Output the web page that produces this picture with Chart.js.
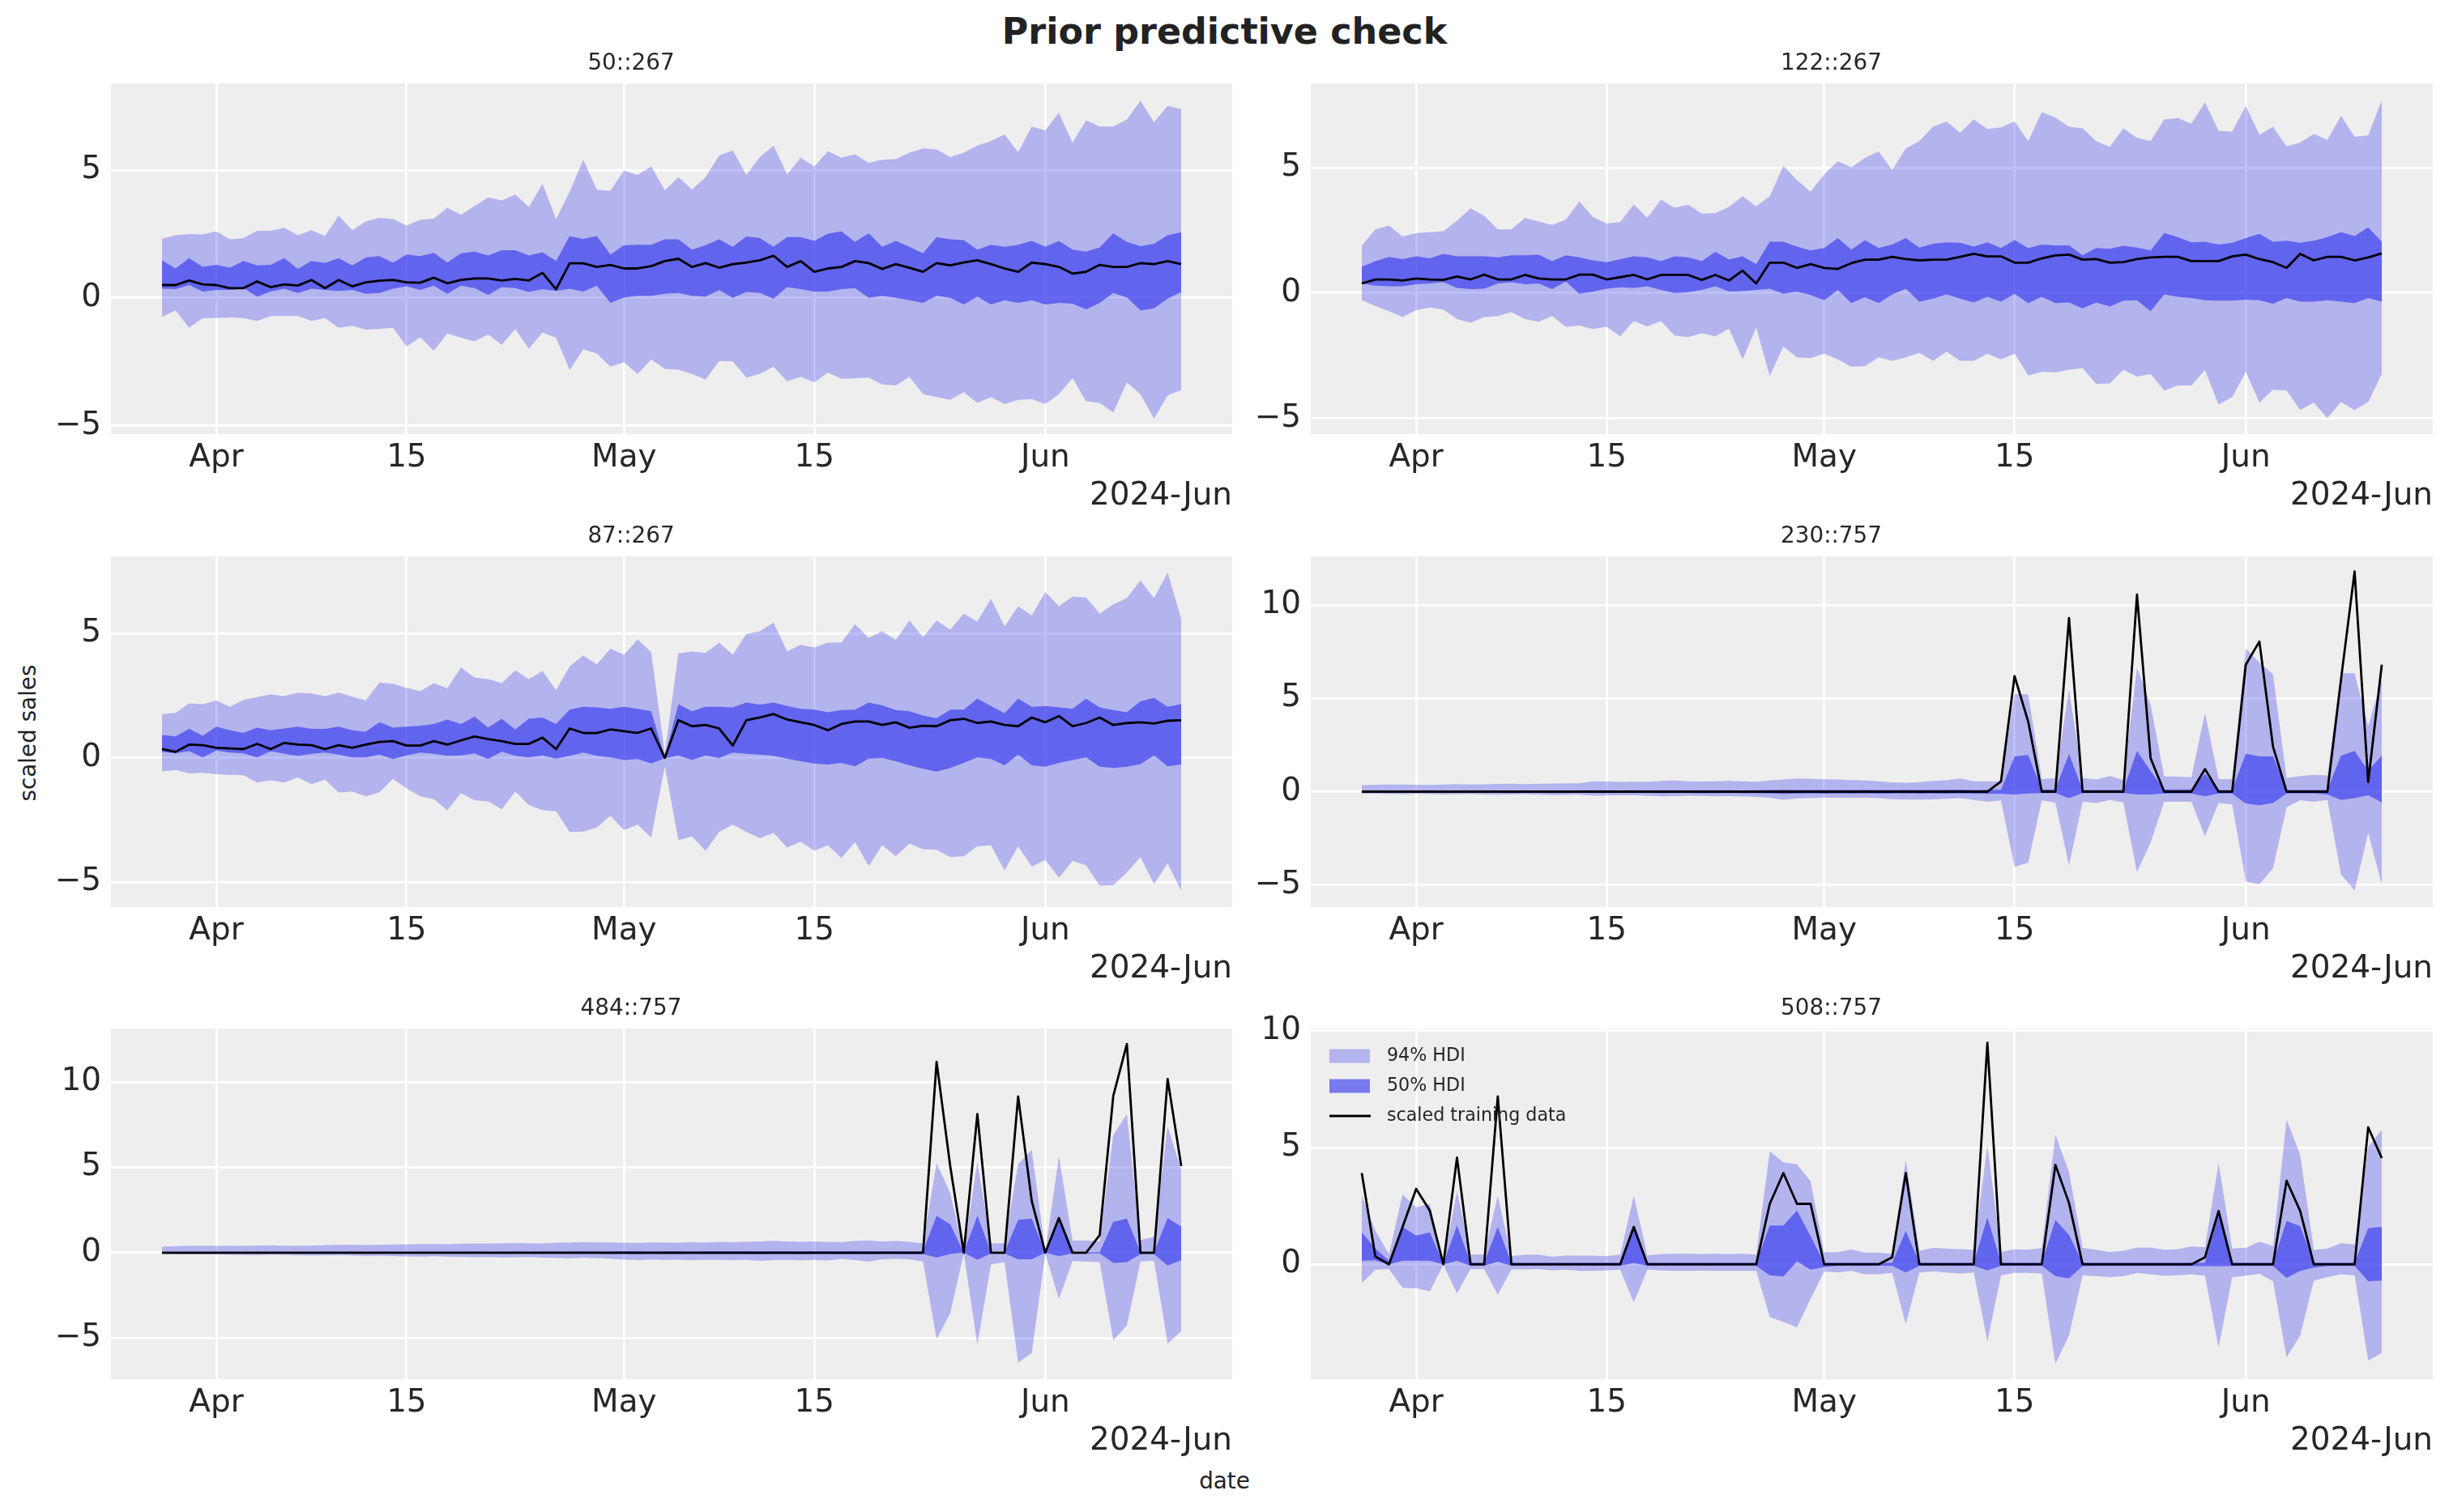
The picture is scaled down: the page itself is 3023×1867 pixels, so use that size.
<!DOCTYPE html>
<html><head><meta charset="utf-8">
<script src="https://cdn.jsdelivr.net/npm/chart.js@4.4.1/dist/chart.umd.min.js"></script>
<style>
html,body{margin:0;padding:0;background:#fff;}
body{width:3023px;height:1867px;position:relative;overflow:hidden;font-family:'DejaVu Sans';}
canvas{position:absolute;}
.txt{position:absolute;color:#222;white-space:nowrap;font-family:'DejaVu Sans';}
</style></head><body>
<div class="txt" id="sup" style="left:0;width:3023px;text-align:center;top:13px;font-size:44.4px;line-height:52px;font-weight:bold;">Prior predictive check</div>
<div class="txt" id="xlab" style="left:0;width:3023px;text-align:center;top:1812px;font-size:27.8px;line-height:34px;">date</div>
<div class="txt" id="ylab" style="left:35px;top:905px;font-size:27.8px;line-height:34px;transform:translate(-50%,-50%) rotate(-90deg);">scaled sales</div>
<script>
// ---------- categories ----------
const dates = ['2024-03-28','2024-03-29','2024-03-30','2024-03-31','2024-04-01','2024-04-02','2024-04-03','2024-04-04','2024-04-05','2024-04-06',
'2024-04-07','2024-04-08','2024-04-09','2024-04-10','2024-04-11','2024-04-12','2024-04-13','2024-04-14','2024-04-15','2024-04-16',
'2024-04-17','2024-04-18','2024-04-19','2024-04-20','2024-04-21','2024-04-22','2024-04-23','2024-04-24','2024-04-25','2024-04-26',
'2024-04-27','2024-04-28','2024-04-29','2024-04-30','2024-05-01','2024-05-02','2024-05-03','2024-05-04','2024-05-05','2024-05-06',
'2024-05-07','2024-05-08','2024-05-09','2024-05-10','2024-05-11','2024-05-12','2024-05-13','2024-05-14','2024-05-15','2024-05-16',
'2024-05-17','2024-05-18','2024-05-19','2024-05-20','2024-05-21','2024-05-22','2024-05-23','2024-05-24','2024-05-25','2024-05-26',
'2024-05-27','2024-05-28','2024-05-29','2024-05-30','2024-05-31','2024-06-01','2024-06-02','2024-06-03','2024-06-04','2024-06-05',
'2024-06-06','2024-06-07','2024-06-08','2024-06-09','2024-06-10','2024-06-11'];
const tickDates = ['2024-04-01','2024-04-15','2024-05-01','2024-05-15','2024-06-01'];
const tickLabels = ['Apr','15','May','15','Jun'];
const offsetLabel = '2024-Jun';
const panelTitles = ['50::267','122::267','87::267','230::757','484::757','508::757'];
const legendLabels = ['94% HDI','50% HDI','scaled training data'];

// ---------- panel 1: 50::267 ----------
const p1Hi94 = [2.31,2.45,2.50,2.48,2.60,2.29,2.34,2.62,2.62,2.74,2.45,2.65,2.42,3.22,2.65,2.99,3.13,3.08,2.83,3.05,3.10,3.53,3.25,3.59,3.93,3.81,4.04,3.55,4.46,3.08,4.15,5.40,4.23,4.19,4.98,4.80,5.15,4.21,4.72,4.24,4.72,5.57,5.77,4.81,5.51,5.96,4.83,5.48,5.14,5.74,5.48,5.62,5.28,5.40,5.43,5.68,5.85,5.81,5.51,5.68,5.96,6.13,6.39,5.70,6.70,6.55,7.24,6.06,6.95,6.70,6.70,6.98,7.71,6.87,7.51,7.38];
const p1Hi50 = [1.47,1.15,1.55,1.21,1.29,1.18,1.44,1.27,1.29,1.55,1.13,1.44,1.36,1.55,1.27,1.58,1.63,1.38,1.70,1.63,1.76,1.38,1.74,1.81,1.66,1.86,1.86,1.66,1.78,1.44,2.42,2.31,2.42,1.70,2.06,2.08,2.08,2.29,2.29,1.89,2.06,2.29,2.00,2.40,2.34,2.00,2.38,2.38,2.23,2.51,2.60,2.19,2.53,2.00,2.23,2.00,1.74,2.38,2.29,2.26,1.89,2.08,2.00,2.08,2.23,2.00,2.23,1.89,1.81,1.97,2.53,2.19,2.02,2.12,2.45,2.57];
const p1Lo50 = [0.36,0.34,0.50,0.25,0.31,0.31,0.38,0.05,0.25,0.36,0.19,0.36,0.31,0.27,0.31,0.16,0.19,0.36,0.45,0.31,0.48,0.16,0.48,0.38,0.11,0.42,0.38,0.23,0.34,0.27,0.36,0.25,0.48,-0.20,0.02,0.08,0.08,0.16,0.19,0.08,0.05,0.31,0.00,0.23,0.19,-0.03,0.42,0.34,0.25,0.25,0.34,0.38,0.00,0.08,0.00,-0.09,-0.20,0.08,0.00,-0.26,0.05,-0.26,-0.09,-0.20,-0.09,-0.26,-0.20,-0.23,-0.45,-0.20,0.19,0.02,-0.49,-0.41,-0.03,0.23];
const p1Lo94 = [-0.75,-0.49,-1.17,-0.79,-0.79,-0.77,-0.79,-0.90,-0.71,-0.71,-0.71,-0.90,-0.79,-1.17,-1.09,-1.24,-1.22,-1.17,-1.90,-1.54,-2.07,-1.39,-1.56,-1.70,-1.43,-1.84,-1.22,-1.99,-1.36,-1.56,-2.83,-2.01,-2.18,-2.69,-2.52,-2.98,-2.41,-2.78,-2.81,-2.98,-3.20,-2.47,-2.49,-3.12,-2.98,-2.69,-3.26,-3.09,-3.31,-2.92,-3.17,-3.14,-3.12,-3.39,-3.43,-3.09,-3.77,-3.88,-3.99,-3.69,-4.11,-3.88,-4.16,-3.99,-3.96,-4.16,-3.77,-3.14,-4.05,-4.11,-4.48,-3.31,-3.77,-4.73,-3.82,-3.60];
const p1Obs = [0.50,0.50,0.68,0.53,0.50,0.38,0.38,0.64,0.42,0.53,0.48,0.70,0.38,0.70,0.45,0.61,0.67,0.70,0.61,0.59,0.79,0.57,0.70,0.76,0.76,0.68,0.74,0.68,0.98,0.34,1.35,1.35,1.21,1.29,1.15,1.15,1.24,1.44,1.53,1.21,1.36,1.18,1.32,1.38,1.47,1.65,1.21,1.44,1.02,1.15,1.21,1.44,1.36,1.13,1.32,1.18,1.02,1.36,1.27,1.38,1.47,1.32,1.15,1.02,1.38,1.32,1.21,0.95,1.02,1.29,1.21,1.21,1.36,1.32,1.44,1.32];

// ---------- panel 2: 122::267 ----------
const p2Hi94 = [1.88,2.54,2.69,2.25,2.39,2.42,2.46,2.88,3.38,3.08,2.54,2.54,3.00,2.85,2.71,2.92,3.65,3.03,2.77,2.83,3.54,3.00,3.72,3.40,3.52,3.17,3.19,3.43,3.86,3.46,3.86,5.07,4.50,4.04,4.73,5.25,5.02,5.39,5.65,4.90,5.77,6.06,6.63,6.84,6.40,6.92,6.54,6.61,6.84,6.06,7.21,7.00,6.63,6.57,6.06,5.82,6.57,6.19,6.06,6.92,6.98,6.75,7.61,6.46,6.44,7.46,6.31,6.63,5.85,6.00,6.34,6.11,7.07,6.23,6.29,7.69];
const p2Hi50 = [1.04,1.27,1.44,1.35,1.46,1.38,1.56,1.46,1.46,1.46,1.42,1.50,1.50,1.53,1.27,1.50,1.42,1.30,1.23,1.35,1.46,1.42,1.27,1.46,1.42,1.27,1.65,1.33,1.46,1.15,2.04,2.04,1.85,1.70,1.79,2.19,1.73,2.11,1.79,1.93,2.19,1.81,1.96,2.02,2.00,1.85,2.02,1.79,2.11,1.79,1.93,1.90,1.90,1.50,1.79,1.76,1.88,1.81,1.70,2.39,2.23,2.02,2.04,1.93,2.00,2.19,2.36,2.04,2.08,2.00,2.08,2.23,2.42,2.27,2.62,2.04];
const p2Lo50 = [0.38,0.29,0.27,0.27,0.35,0.38,0.43,0.20,0.15,0.17,0.38,0.43,0.35,0.38,0.15,0.46,-0.03,0.06,0.17,0.23,0.20,0.27,0.12,0.00,0.03,0.12,0.27,0.06,0.08,0.12,0.17,-0.03,0.06,-0.08,-0.29,0.12,-0.40,-0.17,-0.40,-0.06,0.17,-0.35,-0.23,-0.06,-0.23,-0.38,-0.15,-0.35,-0.03,-0.40,-0.15,-0.40,-0.38,-0.61,-0.38,-0.54,-0.31,-0.29,-0.73,-0.06,-0.15,-0.20,-0.29,-0.31,-0.31,-0.27,-0.29,-0.43,-0.20,-0.35,-0.35,-0.29,-0.35,-0.40,-0.20,-0.35];
const p2Lo94 = [-0.29,-0.52,-0.73,-0.96,-0.69,-0.58,-0.66,-1.04,-1.19,-0.96,-0.92,-0.77,-1.04,-1.15,-0.92,-1.35,-1.30,-1.44,-1.35,-1.73,-1.12,-1.33,-1.12,-1.70,-1.76,-1.61,-1.73,-1.42,-2.65,-1.38,-3.31,-2.13,-2.57,-2.60,-2.42,-2.65,-2.94,-2.92,-2.57,-2.71,-2.57,-2.39,-2.71,-2.34,-2.71,-2.71,-2.42,-2.65,-2.42,-3.29,-3.15,-3.17,-3.06,-3.00,-3.63,-3.61,-3.06,-3.34,-3.23,-3.89,-3.69,-3.69,-3.08,-4.46,-4.15,-3.15,-4.38,-3.86,-3.89,-4.67,-4.38,-4.99,-4.35,-4.67,-4.35,-3.23];
const p2Obs = [0.38,0.54,0.54,0.50,0.58,0.54,0.52,0.66,0.54,0.73,0.54,0.54,0.72,0.58,0.54,0.54,0.73,0.73,0.54,0.63,0.72,0.54,0.72,0.72,0.72,0.52,0.72,0.50,0.89,0.38,1.21,1.21,1.00,1.15,1.00,0.96,1.19,1.33,1.33,1.44,1.35,1.30,1.33,1.33,1.44,1.56,1.46,1.46,1.21,1.21,1.38,1.50,1.53,1.33,1.35,1.21,1.23,1.35,1.42,1.44,1.44,1.27,1.27,1.27,1.46,1.53,1.35,1.23,1.00,1.56,1.30,1.44,1.44,1.30,1.42,1.58];

// ---------- panel 3: 87::267 ----------
const p3Hi94 = [1.76,1.81,2.19,2.16,2.30,2.05,2.33,2.44,2.55,2.48,2.62,2.59,2.48,2.62,2.46,2.30,3.03,2.98,2.81,2.68,3.00,2.79,3.63,3.22,3.17,3.00,3.52,3.17,3.49,2.73,3.68,4.11,3.76,4.39,4.14,4.76,4.25,0.18,4.20,4.27,4.22,4.63,4.14,4.98,5.09,5.44,4.28,4.54,4.44,4.63,4.63,5.37,4.83,5.09,4.74,5.52,4.85,5.52,5.15,5.80,5.48,6.39,5.28,6.10,5.72,6.67,6.10,6.48,6.45,5.80,6.17,6.42,7.13,6.42,7.45,5.59];
const p3Hi50 = [0.92,0.86,1.16,0.89,1.25,1.11,1.00,1.21,1.11,1.18,1.25,1.16,1.16,1.25,1.11,1.05,1.43,1.21,1.25,1.29,1.36,1.54,1.36,1.65,1.21,1.57,1.14,1.57,1.62,1.36,1.94,2.05,2.03,1.97,2.05,1.97,1.87,0.02,2.16,1.87,2.05,2.05,2.03,2.22,2.14,2.22,2.08,1.97,1.94,1.83,1.92,1.94,2.22,2.11,1.92,1.87,1.70,1.59,1.94,1.94,2.38,2.08,1.79,2.38,2.05,2.08,2.03,1.97,2.38,2.03,1.92,1.83,2.27,2.41,2.05,2.16];
const p3Lo50 = [0.24,0.18,0.27,0.02,0.29,0.21,0.18,0.02,0.27,0.16,0.08,0.16,0.21,0.13,0.02,0.02,0.13,-0.05,0.10,0.21,0.16,0.08,0.10,0.18,-0.05,0.24,0.08,0.02,0.10,-0.03,0.08,0.21,0.08,0.02,-0.09,-0.05,-0.23,-0.02,0.10,-0.09,0.10,-0.01,0.21,0.16,0.13,0.08,-0.03,-0.14,-0.23,-0.27,-0.20,-0.34,-0.03,-0.01,-0.14,-0.30,-0.44,-0.55,-0.41,-0.20,0.02,-0.05,-0.30,0.13,-0.30,-0.36,-0.20,-0.09,0.02,-0.36,-0.41,-0.36,-0.25,0.10,-0.34,-0.27];
const p3Lo94 = [-0.55,-0.49,-0.63,-0.60,-0.66,-0.68,-0.70,-0.99,-0.90,-0.99,-0.79,-1.06,-0.88,-1.39,-1.36,-1.55,-1.39,-0.85,-1.23,-1.55,-1.66,-2.11,-1.42,-1.71,-1.75,-2.07,-1.36,-1.90,-2.11,-2.15,-2.98,-2.96,-2.80,-2.33,-2.91,-2.69,-3.20,-0.34,-3.31,-3.16,-3.74,-2.98,-2.69,-2.98,-3.23,-3.02,-3.61,-3.37,-3.74,-3.52,-4.03,-3.39,-4.35,-3.52,-3.96,-3.45,-3.67,-3.70,-3.99,-3.96,-3.56,-3.52,-4.53,-3.56,-4.37,-4.10,-4.82,-4.14,-4.32,-5.14,-5.12,-4.61,-3.99,-5.08,-4.24,-5.35];
const p3Obs = [0.35,0.24,0.53,0.51,0.40,0.38,0.35,0.56,0.35,0.60,0.53,0.51,0.35,0.51,0.40,0.53,0.64,0.67,0.49,0.49,0.67,0.53,0.70,0.86,0.75,0.67,0.56,0.56,0.81,0.35,1.18,1.00,1.00,1.14,1.07,1.00,1.18,0.00,1.51,1.27,1.32,1.18,0.49,1.51,1.62,1.76,1.54,1.43,1.32,1.11,1.36,1.46,1.46,1.32,1.43,1.21,1.29,1.27,1.51,1.57,1.40,1.46,1.32,1.27,1.62,1.43,1.68,1.27,1.40,1.62,1.32,1.40,1.43,1.38,1.49,1.51];

// ---------- panel 4: 230::757 ----------
const p4Hi94 = [0.35,0.37,0.38,0.38,0.37,0.36,0.38,0.40,0.38,0.39,0.41,0.42,0.40,0.42,0.43,0.44,0.45,0.55,0.54,0.52,0.53,0.52,0.58,0.60,0.55,0.54,0.55,0.58,0.55,0.53,0.60,0.65,0.70,0.68,0.66,0.65,0.62,0.60,0.55,0.50,0.48,0.51,0.58,0.61,0.70,0.55,0.55,0.55,5.23,5.20,0.67,0.73,5.49,0.73,0.65,0.84,0.62,6.63,4.65,0.81,0.80,0.77,4.22,0.67,0.67,7.67,6.92,6.29,0.73,0.84,0.90,0.87,6.34,6.34,3.50,6.00];
const p4Hi50 = [0.06,0.06,0.05,0.06,0.06,0.05,0.06,0.07,0.06,0.06,0.07,0.06,0.06,0.07,0.07,0.06,0.07,0.08,0.08,0.07,0.08,0.07,0.08,0.08,0.07,0.08,0.08,0.08,0.07,0.08,0.09,0.10,0.09,0.09,0.10,0.09,0.09,0.10,0.09,0.09,0.10,0.09,0.10,0.10,0.11,0.09,0.10,0.10,1.89,1.96,0.12,0.12,2.03,0.09,0.09,0.09,0.09,2.18,1.10,0.12,0.12,0.12,0.96,0.09,0.09,2.03,1.89,1.89,0.09,0.09,0.09,0.09,1.93,2.18,1.13,1.93];
const p4Lo50 = [-0.05,-0.05,-0.06,-0.05,-0.05,-0.06,-0.06,-0.05,-0.06,-0.06,-0.06,-0.07,-0.06,-0.06,-0.07,-0.07,-0.06,-0.08,-0.07,-0.07,-0.08,-0.08,-0.09,-0.08,-0.08,-0.09,-0.09,-0.08,-0.09,-0.09,-0.10,-0.12,-0.11,-0.10,-0.11,-0.10,-0.11,-0.10,-0.11,-0.10,-0.10,-0.11,-0.10,-0.11,-0.10,-0.11,-0.12,-0.11,-0.15,-0.10,-0.07,-0.07,-0.35,-0.07,-0.07,-0.07,-0.07,-0.15,-0.15,-0.10,-0.10,-0.10,-0.25,-0.10,-0.10,-0.64,-0.73,-0.61,-0.10,-0.10,-0.10,-0.15,-0.44,-0.35,-0.20,-0.58];
const p4Lo94 = [-0.12,-0.11,-0.13,-0.14,-0.12,-0.13,-0.15,-0.14,-0.13,-0.15,-0.16,-0.15,-0.14,-0.16,-0.18,-0.17,-0.16,-0.22,-0.21,-0.19,-0.20,-0.22,-0.25,-0.24,-0.22,-0.23,-0.25,-0.24,-0.26,-0.28,-0.33,-0.43,-0.36,-0.35,-0.33,-0.32,-0.34,-0.33,-0.35,-0.40,-0.42,-0.42,-0.41,-0.38,-0.35,-0.44,-0.54,-0.47,-4.03,-3.81,-0.47,-0.58,-3.95,-0.54,-0.61,-0.44,-0.58,-4.32,-2.72,-0.54,-0.54,-0.54,-2.38,-0.61,-0.68,-4.80,-4.97,-4.10,-0.83,-0.47,-0.54,-0.44,-4.42,-5.30,-2.21,-4.97];
const p4Obs = [0,0,0,0,0,0,0,0,0,0,0,0,0,0,0,0,0,0,0,0,0,0,0,0,0,0,0,0,0,0,0,0,0,0,0,0,0,0,0,0,0,0,0,0,0,0,0,0.55,6.19,3.75,0,0,9.30,0,0,0,0,10.55,1.79,0,0,0,1.21,0,0,6.80,8.04,2.41,0,0,0,0,6.00,11.79,0.52,6.80];

// ---------- panel 5: 484::757 ----------
const p5Hi94 = [0.35,0.38,0.40,0.40,0.40,0.39,0.40,0.42,0.43,0.41,0.40,0.42,0.44,0.46,0.47,0.45,0.47,0.48,0.49,0.50,0.51,0.50,0.52,0.54,0.53,0.55,0.56,0.55,0.54,0.58,0.60,0.62,0.61,0.60,0.58,0.57,0.59,0.60,0.58,0.62,0.60,0.63,0.62,0.64,0.66,0.70,0.66,0.64,0.65,0.63,0.62,0.69,0.71,0.65,0.69,0.63,0.55,5.24,3.50,0.05,5.32,0.55,0.55,5.19,6.03,0.05,5.66,0.71,0.71,0.66,6.89,8.12,0.74,0.93,7.40,4.84];
const p5Hi50 = [0.04,0.04,0.05,0.04,0.05,0.05,0.04,0.05,0.05,0.05,0.05,0.05,0.06,0.05,0.06,0.05,0.06,0.06,0.05,0.06,0.06,0.06,0.06,0.07,0.06,0.06,0.07,0.06,0.07,0.07,0.07,0.08,0.07,0.07,0.08,0.08,0.07,0.08,0.08,0.07,0.08,0.08,0.08,0.09,0.08,0.08,0.09,0.08,0.08,0.09,0.08,0.08,0.09,0.08,0.09,0.08,0.08,2.16,1.66,0.00,2.16,0.03,0.03,1.92,2.00,0.00,1.90,0.03,0.03,0.03,1.81,2.00,0.03,0.03,2.03,1.53];
const p5Lo50 = [-0.03,-0.03,-0.04,-0.03,-0.04,-0.04,-0.04,-0.04,-0.05,-0.04,-0.04,-0.05,-0.05,-0.04,-0.05,-0.05,-0.05,-0.06,-0.05,-0.05,-0.06,-0.05,-0.06,-0.06,-0.06,-0.07,-0.06,-0.06,-0.07,-0.06,-0.07,-0.07,-0.07,-0.08,-0.07,-0.08,-0.07,-0.08,-0.08,-0.07,-0.08,-0.08,-0.08,-0.08,-0.09,-0.08,-0.08,-0.09,-0.08,-0.08,-0.09,-0.08,-0.09,-0.08,-0.08,-0.09,-0.08,-0.28,-0.08,0.00,-0.41,-0.05,-0.05,-0.39,-0.39,0.00,-0.20,-0.05,-0.05,-0.05,-0.60,-0.55,-0.08,-0.08,-0.76,-0.44];
const p5Lo94 = [-0.08,-0.09,-0.10,-0.11,-0.10,-0.12,-0.13,-0.14,-0.12,-0.13,-0.15,-0.16,-0.15,-0.14,-0.17,-0.19,-0.18,-0.20,-0.22,-0.24,-0.21,-0.23,-0.25,-0.27,-0.26,-0.28,-0.27,-0.26,-0.29,-0.31,-0.33,-0.30,-0.32,-0.35,-0.40,-0.44,-0.40,-0.42,-0.41,-0.44,-0.43,-0.42,-0.44,-0.42,-0.47,-0.44,-0.43,-0.45,-0.43,-0.46,-0.36,-0.44,-0.52,-0.39,-0.36,-0.39,-0.52,-5.06,-3.55,-0.05,-5.38,-0.68,-0.55,-6.44,-5.88,-0.05,-2.73,-0.49,-0.52,-0.57,-5.13,-4.27,-0.52,-0.46,-5.33,-4.59];
const p5Obs = [0,0,0,0,0,0,0,0,0,0,0,0,0,0,0,0,0,0,0,0,0,0,0,0,0,0,0,0,0,0,0,0,0,0,0,0,0,0,0,0,0,0,0,0,0,0,0,0,0,0,0,0,0,0,0,0,0,11.18,5.08,0,8.12,0,0,9.15,3.03,0,2.03,0,0,1.03,9.18,12.22,0,0,10.17,5.08];

// ---------- panel 6: 508::757 ----------
const p6Hi94 = [2.94,1.43,0.44,3.00,2.44,2.59,0.03,3.14,0.42,0.42,2.94,0.35,0.41,0.41,0.33,0.38,0.37,0.37,0.35,0.41,2.94,0.38,0.44,0.45,0.46,0.44,0.45,0.44,0.45,0.42,4.84,4.37,4.28,3.56,0.52,0.52,0.64,0.50,0.50,0.45,4.49,0.58,0.70,0.67,0.65,0.62,5.09,0.53,0.65,0.62,0.70,5.56,3.95,0.70,0.62,0.53,0.58,0.72,0.72,0.62,0.65,0.77,0.73,4.34,0.67,0.71,0.97,0.79,6.20,4.69,0.62,0.67,0.91,0.85,5.03,5.77];
const p6Hi50 = [1.37,0.67,0.15,1.60,1.23,1.37,0.03,1.66,0.07,0.07,1.60,0.07,0.07,0.07,0.07,0.07,0.07,0.07,0.07,0.07,1.60,0.07,0.07,0.07,0.07,0.07,0.07,0.07,0.07,0.07,1.66,1.66,2.30,1.20,0.07,0.07,0.07,0.07,0.07,0.07,1.43,0.07,0.07,0.07,0.07,0.07,2.01,0.07,0.07,0.07,0.07,1.90,1.26,0.07,0.07,0.07,0.07,0.07,0.07,0.07,0.07,0.07,0.07,2.13,0.07,0.07,0.07,0.07,1.86,1.63,0.07,0.07,0.07,0.07,1.55,1.60];
const p6Lo50 = [0.15,0.17,0.00,0.15,0.15,0.15,0.00,0.15,-0.06,-0.06,0.12,-0.06,-0.06,-0.06,-0.06,-0.06,-0.06,-0.06,-0.06,-0.06,0.06,-0.06,-0.06,-0.06,-0.06,-0.06,-0.06,-0.06,-0.06,-0.06,-0.47,-0.52,0.13,-0.23,-0.12,-0.06,-0.06,-0.06,-0.06,-0.06,-0.35,-0.06,-0.06,-0.06,-0.06,-0.06,-0.26,-0.06,-0.06,-0.06,-0.06,-0.51,-0.60,-0.07,-0.07,-0.07,-0.07,-0.07,-0.07,-0.07,-0.07,-0.07,-0.07,-0.08,-0.07,-0.07,-0.07,-0.07,-0.58,-0.28,-0.14,-0.07,-0.07,-0.07,-0.72,-0.70];
const p6Lo94 = [-0.81,-0.23,-0.20,-1.01,-1.03,-1.16,-0.02,-1.24,-0.20,-0.20,-1.30,-0.22,-0.22,-0.20,-0.26,-0.23,-0.28,-0.28,-0.26,-0.23,-1.63,-0.23,-0.26,-0.28,-0.28,-0.27,-0.28,-0.28,-0.28,-0.28,-2.26,-2.47,-2.70,-1.48,-0.31,-0.35,-0.28,-0.43,-0.43,-0.37,-2.56,-0.35,-0.31,-0.35,-0.40,-0.35,-3.30,-0.47,-0.37,-0.37,-0.40,-4.27,-3.05,-0.47,-0.51,-0.55,-0.51,-0.37,-0.43,-0.49,-0.47,-0.43,-0.49,-3.57,-0.55,-0.49,-0.40,-0.72,-3.98,-3.05,-0.70,-0.55,-0.43,-0.47,-4.12,-3.80];
const p6Obs = [3.91,0.33,0,1.60,3.23,2.30,0,4.57,0,0,7.19,0,0,0,0,0,0,0,0,0,1.60,0,0,0,0,0,0,0,0,0,2.59,3.91,2.59,2.59,0,0,0,0,0,0.30,3.91,0,0,0,0,0,9.49,0,0,0,0,4.26,2.63,0,0,0,0,0,0,0,0,0,0.30,2.28,0,0,0,0,3.58,2.28,0,0,0,0,5.87,4.55];

// ---------- axis settings ----------
const yLimits = [[-5.33,8.39],[-5.63,8.36],[-6.0,8.1],[-6.18,12.6],[-7.41,13.13],[-4.92,10.1]];
const yTickValues = [[-5,0,5],[-5,0,5],[-5,0,5],[-5,0,5,10],[-5,0,5,10],[0,5,10]];

const panels = [
  {obs:p1Obs, hi94:p1Hi94, lo94:p1Lo94, hi50:p1Hi50, lo50:p1Lo50},
  {obs:p2Obs, hi94:p2Hi94, lo94:p2Lo94, hi50:p2Hi50, lo50:p2Lo50},
  {obs:p3Obs, hi94:p3Hi94, lo94:p3Lo94, hi50:p3Hi50, lo50:p3Lo50},
  {obs:p4Obs, hi94:p4Hi94, lo94:p4Lo94, hi50:p4Hi50, lo50:p4Lo50},
  {obs:p5Obs, hi94:p5Hi94, lo94:p5Lo94, hi50:p5Hi50, lo50:p5Lo50},
  {obs:p6Obs, hi94:p6Hi94, lo94:p6Lo94, hi50:p6Hi50, lo50:p6Lo50}
];

// ---------- layout / style ----------
const colLeft = [137, 1618], colWidth = [1384, 1385];
const rowTop = [103, 687, 1270], plotH = 433;
const YW = 100, TOPH = 53, XH = 100, RPAD = 14;
const C94 = 'rgba(42,46,236,0.3)', C50 = 'rgba(42,46,236,0.6)';
const TXT = '#262626', FONT = 'DejaVu Sans';
Chart.defaults.font.family = FONT;

const bgPlugin = {id:'bg', beforeDraw(chart){
  const {ctx, chartArea:a} = chart;
  ctx.save(); ctx.fillStyle = '#eeeeee';
  ctx.fillRect(a.left, a.top, a.right - a.left, a.bottom - a.top); ctx.restore();
}};
const legendPlugin = {id:'innerLegend', afterDatasetsDraw(chart, args, opts){
  if (!opts || !opts.show) return;
  const {ctx, chartArea:a} = chart;
  ctx.save();
  const x0 = a.left + 23, tx = a.left + 94;
  legendLabels.forEach((lab, i) => {
    const yc = a.top + 34 + i * 37;
    if (i < 2) { ctx.fillStyle = i === 0 ? C94 : C50; ctx.fillRect(x0, yc - 8.5, 50, 17); }
    else { ctx.strokeStyle = '#000'; ctx.lineWidth = 2.8; ctx.beginPath(); ctx.moveTo(x0, yc); ctx.lineTo(x0 + 51, yc); ctx.stroke(); }
    ctx.fillStyle = TXT; ctx.font = '22.2px "' + FONT + '"'; ctx.textBaseline = 'middle'; ctx.textAlign = 'left';
    ctx.fillText(lab, tx, yc);
  });
  ctx.restore();
}};

const tickIdx = tickDates.map(d => dates.indexOf(d));
const pts = arr => dates.map((d, i) => ({x: i, y: arr[i]}));

panels.forEach((p, k) => {
  const col = k % 2, row = Math.floor(k / 2);
  const cv = document.createElement('canvas');
  const w = YW + colWidth[col] + RPAD, h = TOPH + plotH + XH;
  cv.width = w; cv.height = h;
  cv.style.left = (colLeft[col] - YW) + 'px';
  cv.style.top = (rowTop[row] - TOPH) + 'px';
  cv.style.width = w + 'px'; cv.style.height = h + 'px';
  document.body.appendChild(cv);
  const noLine = {borderColor:'rgba(0,0,0,0)', borderWidth:0, pointRadius:0, tension:0};
  new Chart(cv, {
    type: 'line',
    data: {datasets: [
      Object.assign({label:'lo94', data:pts(p.lo94), fill:false, order:4}, noLine),
      Object.assign({label:'94% HDI', data:pts(p.hi94), fill:0, backgroundColor:C94, order:3}, noLine),
      Object.assign({label:'lo50', data:pts(p.lo50), fill:false, order:2}, noLine),
      Object.assign({label:'50% HDI', data:pts(p.hi50), fill:2, backgroundColor:C50, order:1}, noLine),
      {label:'scaled training data', data:pts(p.obs), borderColor:'#000', borderWidth:2.8, pointRadius:0, tension:0, fill:false, borderJoinStyle:'round', order:0}
    ]},
    options: {
      responsive:false, animation:false, devicePixelRatio:1,
      layout:{padding:{left:0, right:RPAD, top:0, bottom:0}},
      plugins:{
        legend:{display:false}, tooltip:{enabled:false},
        title:{display:true, text:panelTitles[k], color:TXT, font:{size:27.8, weight:'normal', lineHeight:'34px'}, padding:{top:12, bottom:7}},
        innerLegend:{show: k === 5}
      },
      scales:{
        x:{type:'linear', min:-3.75, max:78.75,
           afterBuildTicks: s => { s.ticks = tickIdx.map(v => ({value:v})); },
           afterFit: s => { s.height = XH; },
           ticks:{color:TXT, padding:7, maxRotation:0, autoSkip:false, font:{size:38.9, lineHeight:'46px'},
                  callback: v => { const j = tickIdx.indexOf(v); return j >= 0 ? tickLabels[j] : ''; }},
           grid:{color:'#ffffff', lineWidth:2.8, drawTicks:false},
           border:{display:false},
           title:{display:true, text:offsetLabel, align:'end', color:TXT, padding:0, font:{size:38.9, lineHeight:'46px'}}
        },
        y:{type:'linear', min:yLimits[k][0], max:yLimits[k][1],
           afterBuildTicks: s => { s.ticks = yTickValues[k].map(v => ({value:v})); },
           afterFit: s => { s.width = YW; },
           ticks:{color:TXT, padding:12, font:{size:38.9}, callback: v => v < 0 ? '\u2212' + Math.abs(v) : String(v)},
           grid:{color:'#ffffff', lineWidth:2.8, drawTicks:false},
           border:{display:false}
        }
      }
    },
    plugins:[bgPlugin, legendPlugin]
  });
});
</script>
</body></html>
